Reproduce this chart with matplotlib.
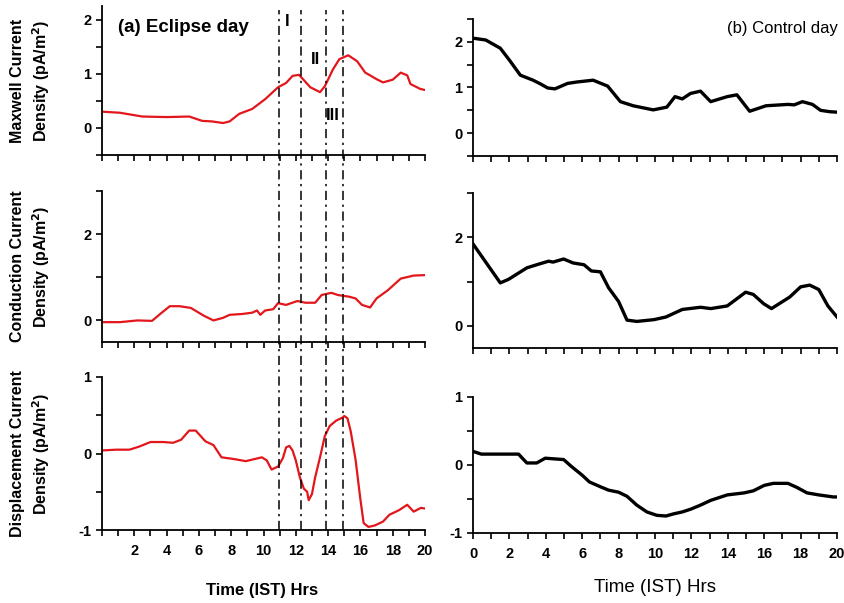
import matplotlib
matplotlib.use("Agg")
import matplotlib.pyplot as plt
from matplotlib.ticker import MultipleLocator

plt.rcParams['font.family'] = ['Liberation Sans', 'DejaVu Sans']
plt.rcParams['axes.unicode_minus'] = False

# ---- eclipse day (left, red) ----
t_maxwell_ecl = [0, 1.1, 2.5, 4.0, 5.4, 6.2, 6.8, 7.5, 7.9, 8.5, 9.3, 10.1, 10.9, 11.4, 11.8, 12.2,
                 12.9, 13.5, 13.8, 14.3, 14.7, 15.25, 15.8, 16.3, 16.6, 17.0, 17.4, 18.0, 18.5,
                 18.9, 19.1, 19.7, 20]
maxwell_ecl = [0.30, 0.28, 0.21, 0.20, 0.21, 0.13, 0.12, 0.09, 0.12, 0.26, 0.35, 0.53, 0.75, 0.83,
               0.96, 0.98, 0.75, 0.66, 0.77, 1.08, 1.27, 1.34, 1.23, 1.02, 0.97, 0.90, 0.84, 0.89,
               1.02, 0.97, 0.81, 0.72, 0.70]

t_cond_ecl = [0, 1.1, 2.2, 3.1, 3.7, 4.2, 4.8, 5.5, 6.3, 6.9, 7.5, 7.9, 8.7, 9.3, 9.6, 9.8, 10.1,
              10.6, 10.9, 11.4, 12.1, 12.6, 13.2, 13.6, 14.2, 14.6, 15.3, 15.7, 16.1, 16.6, 17.0,
              17.7, 18.5, 19.3, 20]
cond_ecl = [-0.04, -0.04, 0.0, -0.01, 0.18, 0.33, 0.33, 0.29, 0.11, 0.0, 0.06, 0.13, 0.15, 0.18,
            0.23, 0.13, 0.23, 0.26, 0.40, 0.36, 0.45, 0.41, 0.41, 0.59, 0.64, 0.59, 0.55, 0.51,
            0.36, 0.30, 0.51, 0.70, 0.97, 1.04, 1.05]

t_disp_ecl = [0, 0.9, 1.7, 2.3, 3.0, 3.8, 4.4, 4.9, 5.4, 5.8, 6.4, 6.9, 7.4, 8.1, 8.9, 9.5, 9.9,
              10.2, 10.5, 10.9, 11.2, 11.4, 11.6, 11.8, 12.0, 12.25, 12.5, 12.7, 12.8, 13.0, 13.2,
              13.5, 13.8, 14.1, 14.5, 14.9, 15.0, 15.2, 15.4, 15.7, 16.0, 16.2, 16.5, 16.9, 17.4,
              17.8, 18.4, 18.9, 19.3, 19.75, 20]
disp_ecl = [0.04, 0.05, 0.05, 0.09, 0.15, 0.15, 0.14, 0.18, 0.30, 0.30, 0.16, 0.11, -0.05, -0.07,
            -0.10, -0.07, -0.05, -0.09, -0.21, -0.17, -0.06, 0.08, 0.10, 0.04, -0.09, -0.31, -0.46,
            -0.50, -0.61, -0.53, -0.31, -0.05, 0.23, 0.36, 0.43, 0.47, 0.49, 0.46, 0.29, -0.08,
            -0.60, -0.91, -0.96, -0.94, -0.89, -0.80, -0.74, -0.67, -0.76, -0.71, -0.72]

# ---- control day (right, black) ----
t_maxwell_ctl = [0, 0.7, 1.5, 2.0, 2.6, 3.3, 3.7, 4.1, 4.5, 5.2, 5.7, 6.6, 7.4, 8.1, 8.8, 9.9,
                 10.65, 11.1, 11.5, 11.95, 12.5, 13.06, 13.97, 14.5, 15.2, 16.1, 17.3, 17.65, 18.1,
                 18.65, 19.1, 19.6, 20]
maxwell_ctl = [2.08, 2.04, 1.86, 1.60, 1.27, 1.16, 1.08, 0.99, 0.97, 1.09, 1.12, 1.16, 1.03, 0.69,
               0.60, 0.51, 0.57, 0.80, 0.75, 0.87, 0.92, 0.69, 0.80, 0.84, 0.48, 0.60, 0.63, 0.62,
               0.69, 0.63, 0.50, 0.47, 0.46]

t_cond_ctl = [0, 1.5, 1.95, 2.96, 3.5, 4.15, 4.4, 4.98, 5.5, 6.1, 6.5, 7.0, 7.45, 8.0, 8.46, 9.0,
              9.94, 10.6, 11.5, 12.5, 13.06, 13.97, 14.98, 15.4, 15.97, 16.4, 17.4, 18.0, 18.5,
              19.0, 19.5, 20]
cond_ctl = [1.85, 0.97, 1.05, 1.31, 1.38, 1.46, 1.44, 1.51, 1.42, 1.38, 1.24, 1.22, 0.86, 0.55,
            0.13, 0.10, 0.14, 0.20, 0.37, 0.42, 0.39, 0.45, 0.76, 0.71, 0.50, 0.39, 0.65, 0.88,
            0.92, 0.82, 0.45, 0.20]

t_disp_ctl = [0, 0.46, 2.5, 2.96, 3.5, 3.97, 4.98, 5.4, 6.0, 6.4, 7.0, 7.45, 8.0, 8.46, 9.0, 9.55,
              10.1, 10.6, 11.0, 11.5, 11.96, 12.5, 13.06, 13.97, 14.9, 15.4, 16.0, 16.5, 17.3,
              17.8, 18.35, 19.0, 19.8, 20]
disp_ctl = [0.20, 0.16, 0.16, 0.03, 0.03, 0.10, 0.08, -0.02, -0.15, -0.25, -0.32, -0.37, -0.40,
            -0.46, -0.59, -0.69, -0.74, -0.75, -0.72, -0.69, -0.65, -0.59, -0.52, -0.44, -0.41,
            -0.38, -0.30, -0.27, -0.27, -0.33, -0.41, -0.44, -0.47, -0.47]

eclipse_marks = [10.95, 12.3, 13.85, 14.9]

ylabels = ['Maxwell Current\nDensity (pA/m$^\\mathbf{2}$)',
           'Conduction Current\nDensity (pA/m$^\\mathbf{2}$)',
           'Displacement Current\nDensity (pA/m$^\\mathbf{2}$)']

W, H = 844, 603
fig = plt.figure(figsize=(W / 100, H / 100), dpi=100)


def box(x0, x1, y0, y1):
    # pixel box (top-left origin) -> figure fraction
    return [x0 / W, 1 - y1 / H, (x1 - x0) / W, (y1 - y0) / H]


left_boxes = [box(102, 425, 6, 155), box(102, 425, 191, 342), box(102, 425, 377, 530)]
right_boxes = [box(473, 837, 19, 156), box(473, 837, 193, 348), box(473, 837, 397, 533)]
ylims = [(-0.5, 2.25), (-0.5, 3.0), (-1, 1)]
right_ylims = [(-0.5, 2.5), (-0.5, 3.0), (-1, 1)]
majors = [1, 2, 1]

left_data = [(t_maxwell_ecl, maxwell_ecl), (t_cond_ecl, cond_ecl), (t_disp_ecl, disp_ecl)]
right_data = [(t_maxwell_ctl, maxwell_ctl), (t_cond_ctl, cond_ctl), (t_disp_ctl, disp_ctl)]


def style(ax, ylim, major, show_x, first_label):
    ax.set_xlim(0, 20)
    ax.set_ylim(*ylim)
    ax.spines['top'].set_visible(False)
    ax.spines['right'].set_visible(False)
    for s in ['left', 'bottom']:
        ax.spines[s].set_linewidth(1.3)
    ax.xaxis.set_major_locator(MultipleLocator(2))
    ax.xaxis.set_minor_locator(MultipleLocator(1))
    ax.yaxis.set_major_locator(MultipleLocator(major))
    ax.yaxis.set_minor_locator(MultipleLocator(major / 2))
    ax.tick_params(which='both', direction='out', length=4, width=1.2, labelsize=10.5)
    ax.tick_params(axis='x', which='both', pad=6)
    ax.patch.set_alpha(0)
    for lab in ax.get_yticklabels():
        lab.set_fontweight('bold')
    if show_x:
        ax.set_xticks(range(first_label, 21, 2))
        ax.set_xticklabels([str(v) for v in range(first_label, 21, 2)], fontweight='bold')
    else:
        ax.tick_params(axis='x', labelbottom=False)


for i in range(3):
    ax = fig.add_axes(left_boxes[i])
    t, v = left_data[i]
    ax.plot(t, v, color='#e3161b', lw=1.6)
    style(ax, ylims[i], majors[i], i == 2, 2)
    b = left_boxes[i]
    fig.text(31 / W, b[1] + b[3] / 2, ylabels[i], rotation=90, ha='center', va='center',
             fontsize=11.5, fontweight='bold', linespacing=1.35)

    ax = fig.add_axes(right_boxes[i])
    t, v = right_data[i]
    ax.plot(t, v, color='black', lw=2.4)
    style(ax, right_ylims[i], majors[i], i == 2, 0)

# dash-dot lines crossing all three eclipse panels
ov = fig.add_axes(box(102, 425, 10, 530))
ov.set_xlim(0, 20)
ov.set_ylim(0, 1)
ov.axis('off')
for xm in eclipse_marks:
    ov.axvline(xm, color='black', lw=1.1, ls=(0, (6, 3, 1.5, 3)))

fig.text(118 / W, 1 - 28 / H, '(a) Eclipse day', fontsize=13.5, fontweight='bold', va='center')
fig.text(838 / W, 1 - 28 / H, '(b) Control day', fontsize=12, ha='right', va='center')
fig.text(287 / W, 1 - 22 / H, 'I', fontsize=12, fontweight='bold', ha='center', va='center')
fig.text(316 / W, 1 - 59 / H, 'II', fontsize=12, fontweight='bold', ha='center', va='center')
fig.text(333 / W, 1 - 116 / H, 'III', fontsize=12, fontweight='bold', ha='center', va='center')

fig.text(262 / W, 1 - 590 / H, 'Time (IST) Hrs', fontsize=12, fontweight='bold', ha='center', va='center')
fig.text(655 / W, 1 - 587 / H, 'Time (IST) Hrs', fontsize=13.5, ha='center', va='center')

fig.savefig('out.png', dpi=100)
